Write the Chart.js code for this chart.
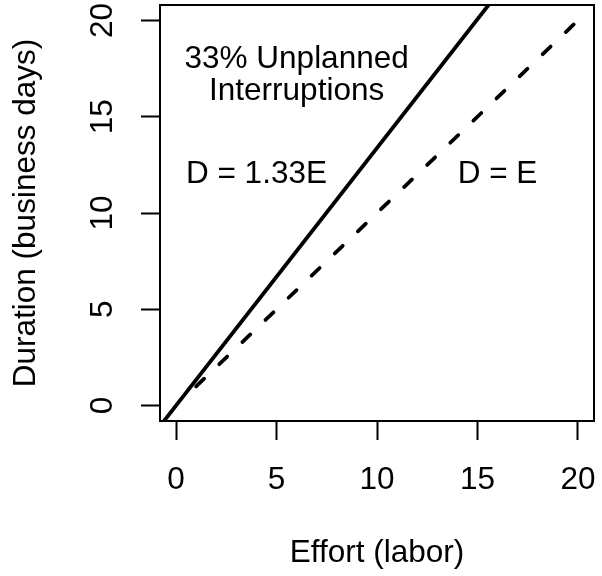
<!DOCTYPE html>
<html>
<head>
<meta charset="utf-8">
<script src="https://cdn.jsdelivr.net/npm/chart.js@4/dist/chart.umd.min.js"></script>
<style>
html,body{margin:0;padding:0;background:#fff;}
#wrap{width:602px;height:576px;}
</style>
</head>
<body>
<div id="wrap"><canvas id="c" width="602" height="576"></canvas></div>
<script>
// ---- data ----
const xTicks = [0, 5, 10, 15, 20];
const yTicks = [0, 5, 10, 15, 20];
const axisMin = -0.8;
const axisMax = 20.8;
// D = 1.33E (solid), endpoints where it meets the plot box
const solidEffort = [-0.6, 15.55];
const solidDuration = [-0.8, 20.8];
// D = E (dashed)
const dashEffort = [1, 20];
const dashDuration = [1, 20];
// annotations
const noteTexts = [["33% Unplanned", "Interruptions"], ["D = 1.33E"], ["D = E"]];
const noteEffort = [6, 4, 16];
const noteDuration = [17.15, 12, 12];
const xTitle = "Effort (labor)";
const yTitle = "Duration (business days)";

const FONT = "'Liberation Sans', Arial, sans-serif";
const FS = 31.5;

const zeroPad = s => { s.paddingTop = 0; s.paddingBottom = 0; s.paddingLeft = 0; s.paddingRight = 0; };

const boxPlugin = {
  id: 'box',
  afterDatasetsDraw(chart) {
    const {ctx, chartArea: a, scales} = chart;
    ctx.save();
    ctx.strokeStyle = '#000';
    ctx.lineWidth = 2;
    ctx.strokeRect(a.left, a.top, a.right - a.left, a.bottom - a.top);
    ctx.fillStyle = '#000';
    ctx.font = FS + 'px ' + FONT;
    ctx.textAlign = 'center';
    ctx.textBaseline = 'middle';
    const lh = 32;
    noteTexts.forEach((lines, i) => {
      const cx = scales.x.getPixelForValue(noteEffort[i]);
      const cy = scales.y.getPixelForValue(noteDuration[i]);
      const n = lines.length;
      lines.forEach((t, j) => {
        ctx.fillText(t, cx, cy + (j - (n - 1) / 2) * lh);
      });
    });
    ctx.restore();
  }
};

const pts = (xs, ys) => xs.map((v, i) => ({x: v, y: ys[i]}));

new Chart(document.getElementById('c'), {
  type: 'scatter',
  data: {
    datasets: [
      {
        data: pts(solidEffort, solidDuration),
        showLine: true,
        borderColor: '#000',
        borderWidth: 3.75,
        borderCapStyle: 'round',
        pointRadius: 0,
        fill: false
      },
      {
        data: pts(dashEffort, dashDuration),
        showLine: true,
        borderColor: '#000',
        borderWidth: 3.75,
        borderCapStyle: 'round',
        borderDash: [11, 21],
        pointRadius: 0,
        fill: false
      }
    ]
  },
  options: {
    responsive: false,
    animation: false,
    devicePixelRatio: 1,
    layout: {padding: {top: 5, right: 8, left: 0, bottom: 0}},
    plugins: {legend: {display: false}, tooltip: {enabled: false}},
    scales: {
      x: {
        type: 'linear',
        position: 'bottom',
        min: axisMin,
        max: axisMax,
        afterBuildTicks: s => { s.ticks = xTicks.map(v => ({value: v})); },
        afterFit: s => { s.height = 155; zeroPad(s); },
        grid: {display: true, drawOnChartArea: false, drawTicks: true, tickLength: 19, tickWidth: 2, tickColor: '#000'},
        border: {display: true, color: '#000', width: 2},
        ticks: {color: '#000', font: {family: FONT, size: FS}, padding: 21, maxRotation: 0, minRotation: 0},
        title: {display: true, text: xTitle, color: '#000', font: {family: FONT, size: FS}, padding: {top: 0, bottom: 4}}
      },
      y: {
        type: 'linear',
        position: 'left',
        min: axisMin,
        max: axisMax,
        afterBuildTicks: s => { s.ticks = yTicks.map(v => ({value: v})); },
        afterFit: s => { s.width = 160; zeroPad(s); },
        grid: {display: true, drawOnChartArea: false, drawTicks: true, tickLength: 19, tickWidth: 2, tickColor: '#000'},
        border: {display: true, color: '#000', width: 2},
        ticks: {color: '#000', font: {family: FONT, size: FS}, padding: 20, minRotation: 90, maxRotation: 90, crossAlign: 'center'},
        title: {display: true, text: yTitle, color: '#000', font: {family: FONT, size: FS}, padding: {top: 7, bottom: 0}}
      }
    }
  },
  plugins: [boxPlugin]
});
</script>
</body>
</html>
